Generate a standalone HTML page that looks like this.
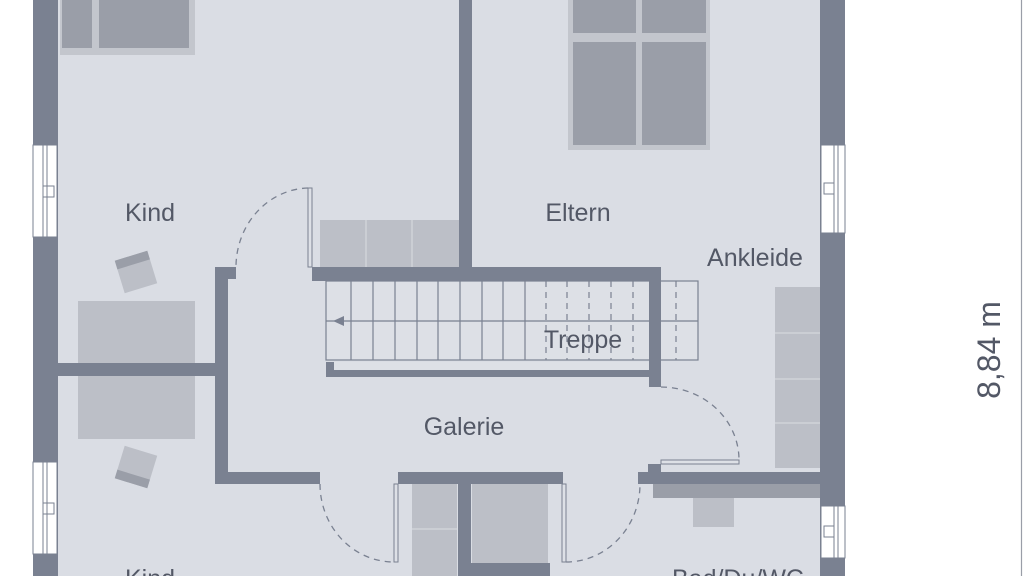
<!DOCTYPE html>
<html><head><meta charset="utf-8"><style>
html,body{margin:0;padding:0;background:#fff;width:1024px;height:576px;overflow:hidden}
svg{display:block}
text{font-family:"Liberation Sans","DejaVu Sans",sans-serif;fill:#535866;font-size:25px}
</style></head><body>
<svg width="1024" height="576" viewBox="0 0 1024 576" xmlns="http://www.w3.org/2000/svg">
<rect x="0" y="0" width="1024" height="576" fill="#fff"/>
<rect x="33" y="0" width="812" height="576" fill="#dadde4"/>
<rect x="60" y="0" width="135" height="55" fill="#c3c6cd"/>
<rect x="62" y="0" width="30" height="48" fill="#9a9ea8"/>
<rect x="99" y="0" width="90" height="48" fill="#9a9ea8"/>
<rect x="568" y="0" width="142" height="150" fill="#c3c6cd"/>
<rect x="573" y="0" width="63" height="33" fill="#9a9ea8"/>
<rect x="642" y="0" width="64" height="33" fill="#9a9ea8"/>
<rect x="573" y="42" width="63" height="103" fill="#9a9ea8"/>
<rect x="642" y="42" width="64" height="103" fill="#9a9ea8"/>
<rect x="320" y="220" width="139" height="47" fill="#bcbfc7"/>
<line x1="366" y1="220" x2="366" y2="267" stroke="#d0d3d9" stroke-width="1.5"/>
<line x1="412" y1="220" x2="412" y2="267" stroke="#d0d3d9" stroke-width="1.5"/>
<rect x="775" y="287" width="45" height="181" fill="#bcbfc7"/>
<g stroke="#d0d3d9" stroke-width="1.5"><line x1="775" y1="333" x2="820" y2="333"/><line x1="775" y1="379" x2="820" y2="379"/><line x1="775" y1="423" x2="820" y2="423"/></g>
<rect x="78" y="301" width="117" height="138" fill="#bcbfc7"/>
<g transform="translate(136,272) rotate(-17)"><rect x="-17" y="-17" width="34" height="34" fill="#bcbfc7"/><rect x="-17" y="-17" width="34" height="9" fill="#9a9ea8"/></g>
<g transform="translate(136,467) rotate(17)"><rect x="-17" y="-17" width="34" height="34" fill="#bcbfc7"/><rect x="-17" y="8" width="34" height="9" fill="#9a9ea8"/></g>
<rect x="326" y="281" width="372" height="79" fill="#dde0e6" stroke="#7a8191" stroke-width="1.2"/>
<line x1="326" y1="321" x2="698" y2="321" stroke="#7a8191" stroke-width="1.2"/>
<g stroke="#7a8191" stroke-width="1.2">
<line x1="351" y1="281" x2="351" y2="360"/><line x1="373" y1="281" x2="373" y2="360"/><line x1="395" y1="281" x2="395" y2="360"/><line x1="417" y1="281" x2="417" y2="360"/><line x1="438" y1="281" x2="438" y2="360"/><line x1="460" y1="281" x2="460" y2="360"/><line x1="482" y1="281" x2="482" y2="360"/><line x1="503" y1="281" x2="503" y2="360"/><line x1="525" y1="281" x2="525" y2="360"/>
</g>
<g stroke="#7a8191" stroke-width="1.2" stroke-dasharray="6,5">
<line x1="546" y1="281" x2="546" y2="360"/><line x1="567" y1="281" x2="567" y2="360"/><line x1="589" y1="281" x2="589" y2="360"/><line x1="611" y1="281" x2="611" y2="360"/><line x1="633" y1="281" x2="633" y2="360"/><line x1="676" y1="281" x2="676" y2="360"/>
</g>
<polygon points="333,321 344,316 344,326" fill="#7a8191"/>
<rect x="333" y="362" width="316" height="8" fill="#dde0e6"/>
<g fill="#7a8191">
<rect x="33" y="0" width="25" height="576"/>
<rect x="820" y="0" width="25" height="576"/>
<rect x="459" y="0" width="13" height="268"/>
<rect x="312" y="267" width="349" height="14"/>
<rect x="649" y="267" width="12" height="120"/>
<rect x="326" y="362" width="8" height="15"/>
<rect x="326" y="370" width="323" height="7"/>
<rect x="215" y="267" width="21" height="12"/>
<rect x="215" y="267" width="13" height="217"/>
<rect x="58" y="363" width="157" height="13"/>
<rect x="215" y="472" width="105" height="12"/>
<rect x="398" y="472" width="165" height="12"/>
<rect x="458" y="484" width="13" height="92"/>
<rect x="458" y="563" width="92" height="13"/>
<rect x="638" y="472" width="182" height="12"/>
<rect x="648" y="464" width="13" height="8"/>
</g>
<rect x="412" y="484" width="45" height="92" fill="#bcbfc7"/>
<line x1="412" y1="529" x2="457" y2="529" stroke="#d0d3d9" stroke-width="1.5"/>
<rect x="472" y="484" width="76" height="79" fill="#bcbfc7"/>
<rect x="653" y="484" width="167" height="14" fill="#9a9ea8"/>
<rect x="693" y="498" width="41" height="29" fill="#bcbfc7"/>
<g fill="#fff" stroke="#7a8191" stroke-width="1">
<rect x="33" y="145" width="24" height="92"/>
<rect x="33" y="462" width="24" height="92"/>
<rect x="821" y="145" width="24" height="88"/>
<rect x="821" y="506" width="24" height="52"/>
</g>
<g fill="none" stroke="#7a8191" stroke-width="1">
<line x1="43" y1="145" x2="43" y2="237"/><line x1="47" y1="145" x2="47" y2="237"/><rect x="43" y="186" width="11" height="11"/>
<line x1="43" y1="462" x2="43" y2="554"/><line x1="47" y1="462" x2="47" y2="554"/><rect x="43" y="503" width="11" height="11"/>
<line x1="834" y1="145" x2="834" y2="233"/><line x1="838" y1="145" x2="838" y2="233"/><rect x="824" y="183" width="10" height="11"/>
<line x1="834" y1="506" x2="834" y2="558"/><line x1="838" y1="506" x2="838" y2="558"/><rect x="824" y="526" width="10" height="11"/>
</g>
<g fill="#dde0e6" stroke="#7a8191" stroke-width="1">
<rect x="308" y="188" width="4" height="79"/>
<rect x="394" y="484" width="4" height="78"/>
<rect x="562" y="484" width="4" height="78"/>
<rect x="661" y="460" width="78" height="4"/>
</g>
<g fill="none" stroke="#7a8191" stroke-width="1.3" stroke-dasharray="6,5">
<path d="M308,188 A74,79 0 0 0 236,267"/>
<path d="M320,484 A74,78 0 0 0 394,562"/>
<path d="M566,562 A74,78 0 0 0 640,484"/>
<path d="M661,387 A78,73 0 0 1 739,460"/>
</g>
<line x1="1021.5" y1="0" x2="1021.5" y2="576" stroke="#9a9ea8" stroke-width="1.2"/>
<text x="0" y="0" transform="translate(1000,350) rotate(-90)" text-anchor="middle" style="font-size:32px">8,84 m</text>
<text x="150" y="221" text-anchor="middle">Kind</text>
<text x="578" y="221" text-anchor="middle">Eltern</text>
<text x="755" y="266" text-anchor="middle">Ankleide</text>
<text x="583" y="348" text-anchor="middle">Treppe</text>
<text x="464" y="435" text-anchor="middle">Galerie</text>
<text x="150" y="587" text-anchor="middle">Kind</text>
<text x="738" y="587" text-anchor="middle">Bad/Du/WC</text>
</svg>
</body></html>
